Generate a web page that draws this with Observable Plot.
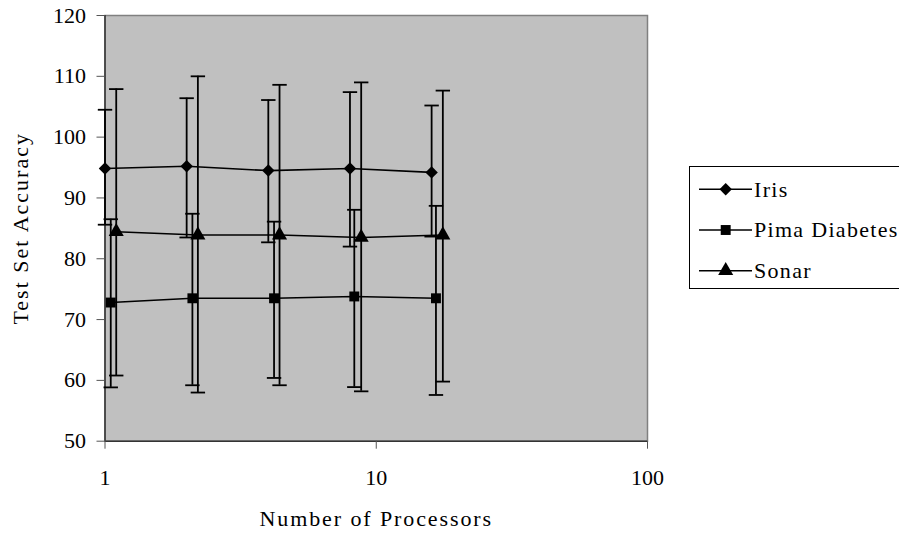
<!DOCTYPE html>
<html>
<head>
<meta charset="utf-8">
<script src="https://cdn.jsdelivr.net/npm/d3@7"></script>
<script src="https://cdn.jsdelivr.net/npm/@observablehq/plot@0.6"></script>
<style>
  html, body { margin: 0; padding: 0; background: #fff; overflow: hidden; }
  #wrap { position: relative; width: 899px; height: 535px; overflow: hidden; }
  #legend { position: absolute; left: 689px; top: 166px; }
</style>
</head>
<body>
<div id="wrap"></div>
<script>
// ---- data ----
const xTicks = [1, 10, 100];
const yTicks = [50, 60, 70, 80, 90, 100, 110, 120];
const xTitle = "Number of Processors";
const yTitle = "Test Set Accuracy";
const seriesNames = ["Iris", "Pima Diabetes", "Sonar"];
const seriesSymbols = ["diamond2", "square", "triangle"];

const irisX  = [1, 2, 4, 8, 16];
const irisY  = [94.85, 95.2, 94.5, 94.85, 94.2];
const irisHi = [104.5, 106.4, 106.1, 107.4, 105.2];
const irisLo = [85.6, 83.5, 82.7, 82.0, 83.65];

const pimaX  = [1.05, 2.1, 4.2, 8.3, 16.6];
const pimaY  = [72.8, 73.5, 73.5, 73.8, 73.5];
const pimaHi = [86.5, 87.4, 86.1, 88.05, 88.7];
const pimaLo = [58.85, 59.2, 60.4, 58.9, 57.6];

const sonarX  = [1.1, 2.2, 4.4, 8.8, 17.6];
const sonarY  = [84.45, 83.9, 83.9, 83.5, 83.9];
const sonarHi = [107.9, 110.0, 108.6, 109.0, 107.65];
const sonarLo = [60.8, 58.0, 59.2, 58.2, 59.8];

const build = (name, xs, ys, his, los) =>
  xs.map((x, i) => ({series: name, x, y: ys[i], hi: his[i], lo: los[i]}));
const data = [
  ...build("Iris", irisX, irisY, irisHi, irisLo),
  ...build("Pima Diabetes", pimaX, pimaY, pimaHi, pimaLo),
  ...build("Sonar", sonarX, sonarY, sonarHi, sonarLo)
];

const FONT = "'Liberation Serif', 'Times New Roman', 'DejaVu Serif', serif";

// horizontal cap symbol for error bars
const capSymbol = {
  draw(ctx, size) { ctx.moveTo(-7.2, 0); ctx.lineTo(7.2, 0); }
};

const chart = Plot.plot({
  width: 899,
  height: 535,
  marginLeft: 104.5,
  marginRight: 252,
  marginTop: 15,
  marginBottom: 94.3,
  style: {fontFamily: FONT, fontSize: "22px", background: "transparent", color: "#000", overflow: "visible"},
  x: {type: "log", domain: [1, 100]},
  y: {domain: [50, 120]},
  symbol: {domain: seriesNames, range: seriesSymbols},
  marks: [
    Plot.frame({fill: "#c0c0c0", stroke: "#808080", strokeWidth: 1.5}),
    Plot.ruleX([1], {stroke: "#333", strokeWidth: 1.5}),
    Plot.ruleY([50], {stroke: "#333", strokeWidth: 1.5}),
    Plot.axisX({ticks: xTicks, tickFormat: d => String(d), tickSize: 8, tickPadding: 20, label: null, stroke: "#555", fontSize: 22, fontFamily: FONT}),
    Plot.axisY({ticks: yTicks, tickSize: 8, tickPadding: 11, label: null, stroke: "#555", fontSize: 22, fontFamily: FONT}),
    // error bars
    Plot.ruleX(data, {x: "x", y1: "lo", y2: "hi", stroke: "#000", strokeWidth: 1.8}),
    Plot.dot(data, {x: "x", y: "hi", symbol: () => capSymbol, stroke: "#000", strokeWidth: 1.8, fill: "none", r: 4}),
    Plot.dot(data, {x: "x", y: "lo", symbol: () => capSymbol, stroke: "#000", strokeWidth: 1.8, fill: "none", r: 4}),
    // lines
    Plot.line(data, {x: "x", y: "y", z: "series", stroke: "#000", strokeWidth: 1.6}),
    // markers
    Plot.dot(data, {x: "x", y: "y", symbol: "series", fill: "#000", stroke: "none", r: 5.6}),
    // axis titles
    Plot.text([xTitle], {frameAnchor: "bottom", dy: 78, textAnchor: "middle", lineAnchor: "middle", fontSize: 22, fontFamily: FONT, fill: "#000"}),
    Plot.text([yTitle], {frameAnchor: "left", dx: -84, rotate: -90, textAnchor: "middle", lineAnchor: "middle", fontSize: 22, fontFamily: FONT, fill: "#000"})
  ]
});

// the reference's titles are set with wide character spacing
d3.select(chart).selectAll("text").each(function() {
  const t = this.textContent;
  if (t === xTitle) this.style.letterSpacing = "1.9px";
  if (t === yTitle) this.style.letterSpacing = "2px";
});

const wrap = document.getElementById("wrap");
wrap.appendChild(chart);

// ---- legend ----
const legend = d3.create("svg")
  .attr("id", "legend")
  .attr("width", 260)
  .attr("height", 124)
  .attr("font-family", FONT)
  .attr("font-size", 22);
legend.append("rect").attr("x", 0.5).attr("y", 0.5).attr("width", 258).attr("height", 122)
  .attr("fill", "#fff").attr("stroke", "#000").attr("stroke-width", 1);
const symMap = {diamond2: d3.symbolDiamond2, square: d3.symbolSquare, triangle: d3.symbolTriangle};
seriesNames.forEach((name, i) => {
  const cy = 23.3 + i * 40.7;
  const g = legend.append("g");
  g.append("line").attr("x1", 10).attr("x2", 63).attr("y1", cy).attr("y2", cy)
    .attr("stroke", "#000").attr("stroke-width", 1.6);
  g.append("path").attr("transform", `translate(36.7,${cy})`)
    .attr("d", d3.symbol(symMap[seriesSymbols[i]], Math.PI * 5.6 * 5.6)())
    .attr("fill", "#000");
  g.append("text").attr("x", 65).attr("y", cy + 7.4).text(name)
    .attr("fill", "#000").style("letter-spacing", "1.3px")
    .style("font-family", FONT);
});
wrap.appendChild(legend.node());
</script>
</body>
</html>
